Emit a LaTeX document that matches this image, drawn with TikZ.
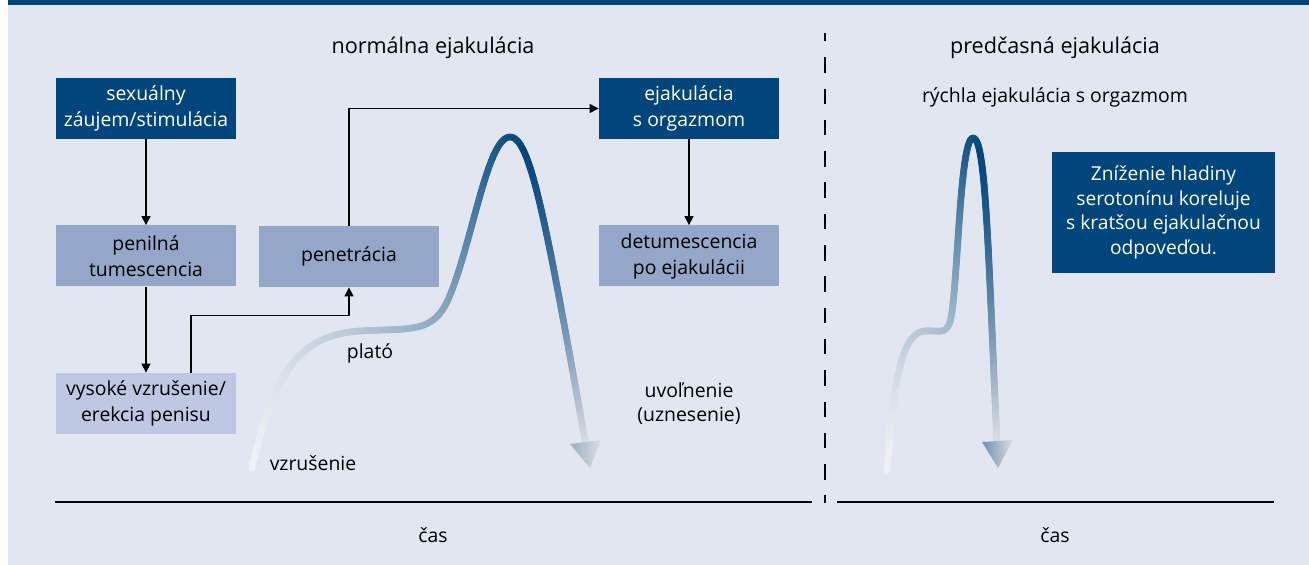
\documentclass[tikz,border=0pt]{standalone}
\usepackage{fontspec}
\setmainfont{Open Sans}
\usetikzlibrary{arrows.meta,positioning,decorations.markings}

\definecolor{navy}{HTML}{00457C}
\definecolor{boxmid}{HTML}{94A7C9}
\definecolor{boxlight}{HTML}{BFC8E2}
\definecolor{bgcol}{HTML}{E2E6F1}
\definecolor{curvelo}{HTML}{F0F1F4}
\definecolor{curveend}{HTML}{DCDDE3}

\begin{document}
\begin{tikzpicture}[x=0.5pt,y=-0.5pt,node distance=73.75pt,
  box/.style={minimum width=90pt,minimum height=30.5pt,inner sep=0pt,align=center,
    font=\fontsize{9.7}{13}\selectfont},
  dark node/.style={box,fill=navy,text=white},
  mid node/.style={box,fill=boxmid},
  light node/.style={box,fill=boxlight},
  label node/.style={inner sep=0pt,align=center,font=\fontsize{9.7}{12}\selectfont},
  title node/.style={inner sep=0pt,font=\fontsize{10.8}{13}\selectfont},
  arr/.style={-{Triangle[length=4.5pt,width=4.5pt]},line width=0.65pt},
  grad line/.style={decoration={markings,
    mark=between positions 0 and 1 step 0.002 with {%
      \pgfmathsetmacro\frac{0.002*\pgfkeysvalueof{/pgf/decoration/mark info/sequence number}}%
      \ifdim\frac pt<#1pt
        \pgfmathsetmacro\pct{100*(\frac/#1)^1.5}\colorlet{cc}{navy!\pct!curvelo}%
      \else
        \pgfmathsetmacro\pct{100*(1-(min(1,(\frac-#1)/(1-#1)))^1.3)}\colorlet{cc}{navy!\pct!curveend}%
      \fi
      \fill[cc] (0,0) circle (1.75pt);}},
    postaction=decorate}]

% background and top bar
\useasboundingbox (0,0) rectangle (1309,565);
\fill[bgcol] (8,0) rectangle (1309,565);
\fill[navy] (8,0) rectangle (1309,5);

% titles
\node[title node] (tl) at (433,48) {normálna ejakulácia};
\node[title node] (tr) at (1055,48) {predčasná ejakulácia};
\node[label node] (rych) at (1055,97) {rýchla ejakulácia s orgazmom};

% boxes
\node[dark node] (sex) at (146,108.5) {sexuálny\\záujem/stimulácia};
\node[mid node] (tum) [below of = sex] {penilná\\tumescencia};
\node[light node] (vys) [below of = tum] {vysoké vzrušenie/\\erekcia penisu};
\node[mid node] (pen) at (349,256.5) {penetrácia};
\node[dark node] (ejk) at (689,108.5) {ejakulácia\\s orgazmom};
\node[mid node] (det) [below of = ejk] {detumescencia\\po ejakulácii};
\node[dark node,minimum width=111.5pt,minimum height=60.5pt,font=\fontsize{9.6}{12.3}\selectfont]
  (sero) at (1163.5,212.5) {Zníženie hladiny\\serotonínu koreluje\\s kratšou ejakulačnou\\odpoveďou.};

% arrows
\draw[arr] (sex) -- (tum);
\draw[arr] (tum) -- (vys);
\draw[arr] ([xshift=22.5pt]vys.north) |- ([yshift=-14pt]pen.south) -- (pen.south);
\draw[arr] (pen.north) |- (ejk.west);
\draw[arr] (ejk) -- (det);

% curves
\path[grad line=0.62] (252,468) .. controls (272,380) and (295,335) .. (360,331)
  .. controls (410,328) and (432,334) .. (448,300)
  .. controls (472,245) and (487,137) .. (510,137)
  .. controls (530,137) and (545,215) .. (586,446);
\shade[left color=navy!30!curveend,right color=curveend] (570,444) -- (601,440) -- (590,468) -- cycle;
\path[grad line=0.57] (887,470) .. controls (893,390) and (900,332) .. (925,331)
  .. controls (940,330) and (947,336) .. (951,318)
  .. controls (958,280) and (960,138) .. (973,138)
  .. controls (986,138) and (988,250) .. (997,443);
\shade[left color=navy!50!curveend,right color=curveend] (982,442) -- (1013,440) -- (998,468) -- cycle;

% curve labels
\node[label node] (plat) at (370,353) {plató};
\node[label node] (vzr) at (313,463) {vzrušenie};
\node[label node] (uvo) at (689,404) {uvoľnenie\\(uznesenie)};

% time axes and divider
\draw[line width=1pt] (55,502) coordinate (al) -- (812,502) coordinate (ar);
\draw[line width=1pt] (837,502) coordinate (bl) -- (1274,502) coordinate (br);
\draw[line width=1pt,dash pattern=on 7.75pt off 7.9pt,dash phase=3.5pt] (825,33) coordinate (dt) -- (825,503) coordinate (db);
\node[label node] (cas1) at (433,535) {čas};
\node[label node] (cas2) at (1055,535) {čas};
\end{tikzpicture}
\end{document}
